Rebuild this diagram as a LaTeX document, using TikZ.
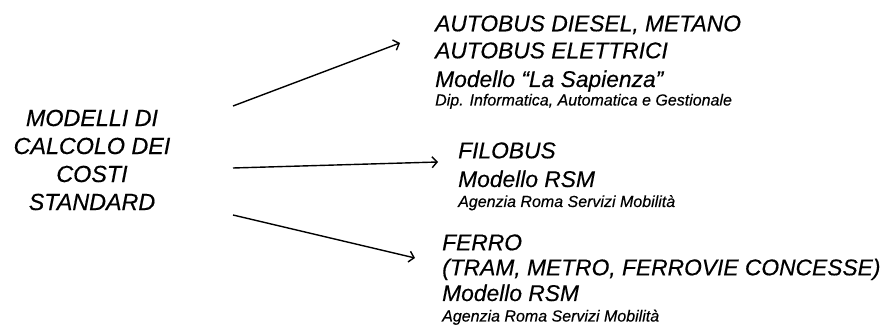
\documentclass[tikz,border=0pt]{standalone}
\usepackage{fontspec}
\setmainfont{Liberation Sans}[ItalicFeatures={FakeBold=0.4}]
\usetikzlibrary{arrows.meta}
\tikzset{
  big/.style={font=\itshape\fontsize{22.8}{28}\selectfont, inner sep=0pt, anchor=base west},
  bigc/.style={font=\itshape\fontsize{23.3}{28}\selectfont, inner sep=0pt, align=center},
  small/.style={font=\itshape\fontsize{16}{19}\selectfont, inner sep=0pt, anchor=base west},
  conn/.style={line width=1.4pt, -{Straight Barb[length=5pt,width=11pt,line width=1.4pt]}}
}
\begin{document}
\begin{tikzpicture}[x=1pt,y=-1pt]
\useasboundingbox (0,0) rectangle (887,328);
% left block
\node[bigc] (src) at (92,160) {MODELLI DI\\CALCOLO DEI\\COSTI\\STANDARD};
% top block
\node[big] (a1) at (435,31.3) {AUTOBUS DIESEL, METANO};
\node[big] (a2) at (435,58.3) {AUTOBUS ELETTRICI};
\node[big] (a3) at (435,87) {Modello ``La Sapienza''};
\node[small] (a4) at (435,105.5) {Dip. Informatica, Automatica e Gestionale};
% middle block
\node[big] (b1) at (458,158.3) {FILOBUS};
\node[big] (b2) at (458,187) {Modello RSM};
\node[small] (b3) at (458,207) {Agenzia Roma Servizi Mobilità};
% bottom block
\node[big] (c1) at (442,250.3) {FERRO};
\node[big] (c2) at (442,275.3) {(TRAM, METRO, FERROVIE CONCESSE)};
\node[big] (c3) at (442,301) {Modello RSM};
\node[small] (c4) at (442,321.5) {Agenzia Roma Servizi Mobilità};
% arrows
\coordinate (s1) at (233,106);
\coordinate (e1) at (400,43);
\coordinate (s2) at (233,168);
\coordinate (e2) at (438,162);
\coordinate (s3) at (233,215);
\coordinate (e3) at (415,258);
\draw[conn] (s1) -- (e1);
\draw[conn] (s2) -- (e2);
\draw[conn] (s3) -- (e3);
\end{tikzpicture}
\end{document}
